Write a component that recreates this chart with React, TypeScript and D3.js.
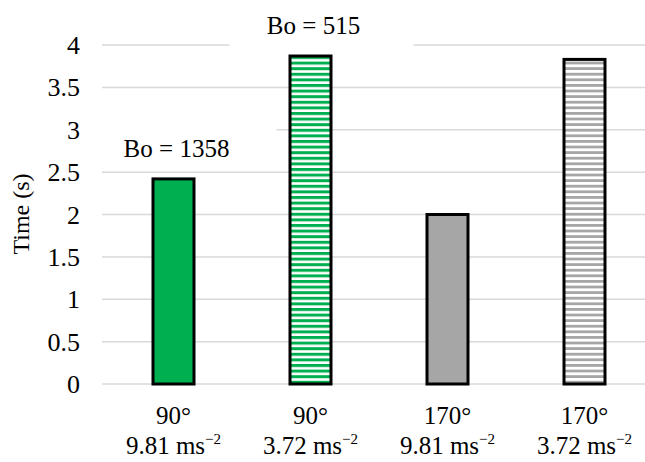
import React from "react";
import * as d3 from "d3";

const categories = ["90°|9.81", "90°|3.72", "170°|9.81", "170°|3.72"];
const angleLabels = ["90°", "90°", "170°", "170°"];
const gravityLabels = ["9.81", "3.72", "9.81", "3.72"];
const times = [2.42, 3.87, 2.0, 3.83];
const fills = ["solid-green", "stripe-green", "solid-gray", "stripe-gray"];
const yTicks = [0, 0.5, 1, 1.5, 2, 2.5, 3, 3.5, 4];
const bondLabels = [
  { index: 0, text: "Bo = 1358" },
  { index: 1, text: "Bo = 515" },
];

const W = 645;
const H = 462;
const GREEN = "#00b050";
const GRAY = "#a6a6a6";
const FONT = "Liberation Serif";

export default function App() {
  const x = d3.scaleBand<string>().domain(categories).range([105, 653]).paddingInner(0).paddingOuter(0);
  const y = d3.scaleLinear().domain([0, 4]).range([384, 45]);
  const barW = 41;

  const fillFor = (f: string) =>
    f === "solid-green" ? GREEN : f === "solid-gray" ? GRAY : f === "stripe-green" ? "url(#stripeGreen)" : "url(#stripeGray)";

  return (
    <svg
      width={W}
      height={H}
      style={{ position: "absolute", left: 0, top: 0, background: "#fff" }}
    >
      <defs>
        <pattern id="stripeGreen" patternUnits="userSpaceOnUse" width={8} height={5.6}>
          <rect width={8} height={5.6} fill="#fff" />
          <rect width={8} height={3} fill={GREEN} />
        </pattern>
        <pattern id="stripeGray" patternUnits="userSpaceOnUse" width={8} height={5.6}>
          <rect width={8} height={5.6} fill="#fff" />
          <rect width={8} height={2.8} fill={GRAY} />
        </pattern>
      </defs>

      {/* horizontal gridlines */}
      {yTicks.map((t) => (
        <line key={t} x1={102} x2={W} y1={y(t)} y2={y(t)} stroke="#d9d9d9" strokeWidth={1.5} />
      ))}

      {/* y-axis tick labels */}
      {yTicks.map((t) => (
        <text key={"l" + t} x={80} y={y(t)} dy="0.35em" textAnchor="end" fontSize={26} fill="#000" fontFamily={FONT}>
          {t}
        </text>
      ))}

      <text transform={`translate(29, 214) rotate(-90)`} textAnchor="middle" fontSize={24} fill="#000" fontFamily={FONT}>
        Time (s)
      </text>

      {/* bars */}
      {categories.map((c, i) => {
        const cx = (x(c) as number) + x.bandwidth() / 2;
        return (
          <rect key={c} x={cx - barW / 2} y={y(times[i])} width={barW} height={y(0) - y(times[i])}
            fill={fillFor(fills[i])} stroke="#000" strokeWidth={3} />
        );
      })}

      {/* Bond number annotations with a white backing box */}
      {bondLabels.map((b) => {
        const cx = (x(categories[b.index]) as number) + x.bandwidth() / 2 + 3;
        const ty = y(times[b.index]) - 22;
        return (
          <g key={b.text}>
            <rect x={cx - 84} y={ty - 28} width={184} height={40} fill="#fff" />
            <text x={cx} y={ty} textAnchor="middle" fontSize={25} fill="#000" fontFamily={FONT}>
              {b.text}
            </text>
          </g>
        );
      })}

      {/* category labels: angle and gravity */}
      {categories.map((c, i) => {
        const cx = (x(c) as number) + x.bandwidth() / 2;
        return (
          <g key={"x" + c}>
            <text x={cx} y={424} textAnchor="middle" fontSize={25} fill="#000" fontFamily={FONT}>
              {angleLabels[i]}
            </text>
            <text x={cx} y={454} textAnchor="middle" fontSize={25} fill="#000" fontFamily={FONT}>
              {gravityLabels[i]} ms
              <tspan fontSize={15} dy={-10}>−2</tspan>
            </text>
          </g>
        );
      })}
    </svg>
  );
}
